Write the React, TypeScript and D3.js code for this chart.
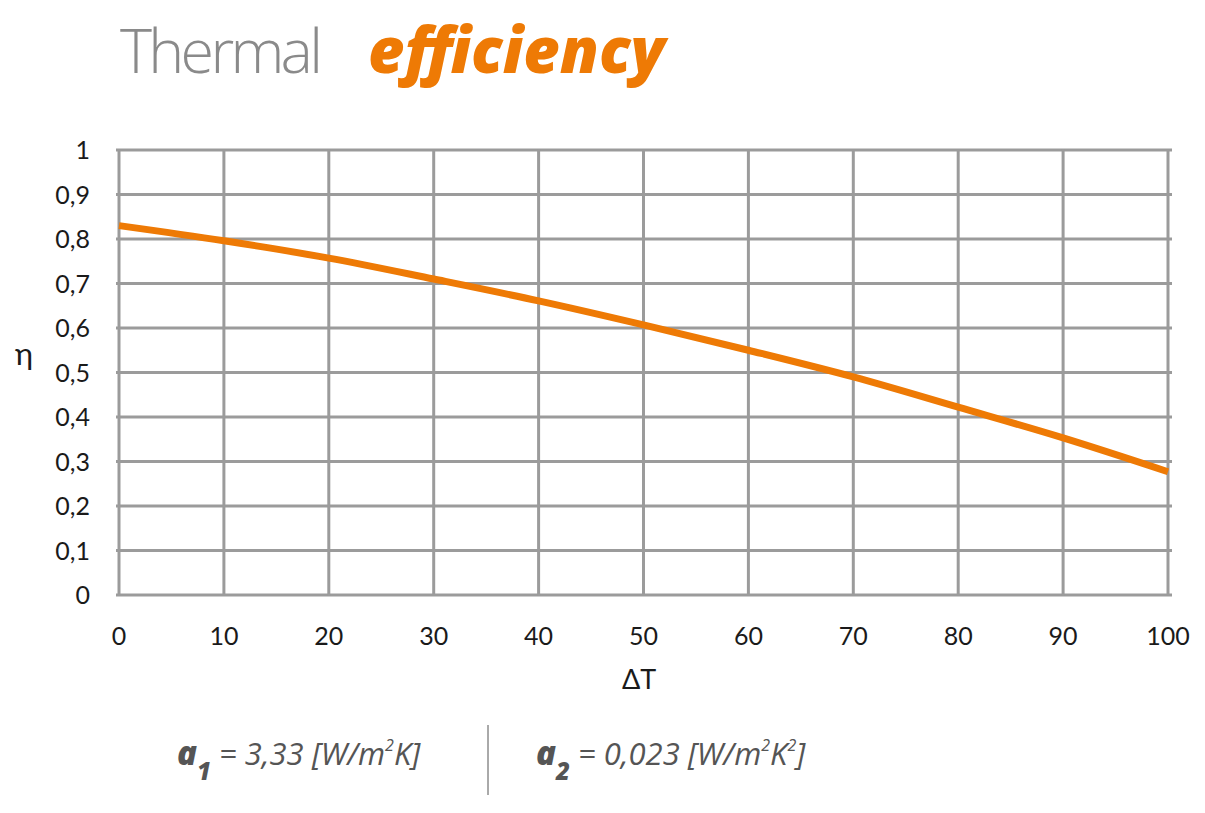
import React from "react";
import * as d3 from "d3";

const deltaT = [0, 10, 20, 30, 40, 50, 60, 70, 80, 90, 100];
const eta = [0.83, 0.796, 0.757, 0.71, 0.661, 0.607, 0.55, 0.49, 0.422, 0.353, 0.277];
const xTicks = [0, 10, 20, 30, 40, 50, 60, 70, 80, 90, 100];
const yTicks = [0, 0.1, 0.2, 0.3, 0.4, 0.5, 0.6, 0.7, 0.8, 0.9, 1];

const W = 1205, H = 813;
const M = { left: 119, right: 1168, top: 150, bottom: 595 };
const ORANGE = "#ee7a05";
const GRID = "#9b9b9b";

const fmt = (v: number) => (v === 0 || v === 1 ? String(v) : String(v).replace(".", ","));

export default function App() {
  const x = d3.scaleLinear().domain([0, 100]).range([M.left, M.right]);
  const y = d3.scaleLinear().domain([0, 1]).range([M.bottom, M.top]);
  const line = d3
    .line<number>()
    .x((_, i) => x(deltaT[i]))
    .y((d) => y(d))
    .curve(d3.curveMonotoneX);
  const tickFont = "Lato, 'Open Sans', sans-serif";
  return (
    <svg width={W} height={H} style={{ position: "absolute", left: 0, top: 0, background: "#fff" }}>
      <text x={120} y={73} fontFamily="'Open Sans'" fontWeight={300} fontSize={61} textLength={203} lengthAdjust="spacing" fill="#8a8a8a">
        Thermal
      </text>
      <text x={368} y={73} fontFamily="'Open Sans'" fontWeight={800} fontStyle="italic" fontSize={63} fill={ORANGE}>
        efficiency
      </text>
      {yTicks.map((t) => (
        <line key={"h" + t} x1={M.left - 3} x2={M.right + 4} y1={y(t)} y2={y(t)} stroke={GRID} strokeWidth={3} />
      ))}
      {xTicks.map((t) => (
        <line key={"v" + t} x1={x(t)} x2={x(t)} y1={M.top - 1} y2={M.bottom + 1} stroke={GRID} strokeWidth={3} />
      ))}
      {yTicks.map((t) => (
        <text key={"yl" + t} x={90} y={y(t)} dy="0.36em" textAnchor="end" fontFamily={tickFont} fontSize={25} fill="#1a1a1a">
          {fmt(t)}
        </text>
      ))}
      {xTicks.map((t) => (
        <text key={"xl" + t} x={x(t)} y={645} textAnchor="middle" fontFamily={tickFont} fontSize={25} fill="#1a1a1a">
          {t}
        </text>
      ))}
      <text x={639} y={689} textAnchor="middle" fontFamily={tickFont} fontSize={27} fill="#1a1a1a">ΔT</text>
      <text x={24} y={365} textAnchor="middle" fontFamily={tickFont} fontSize={31} fill="#1a1a1a">η</text>
      <path d={line(eta) || ""} fill="none" stroke={ORANGE} strokeWidth={7} strokeLinecap="butt" />
      <line x1={488} x2={488} y1={725} y2={795} stroke="#555" strokeWidth={1} />
      <g fontFamily="'Open Sans'" fontStyle="italic" fill="#555" fontSize={31}>
        <text x={177} y={765}>
          <tspan fontWeight={800} fontSize={33}>a</tspan>
          <tspan fontWeight={800} fontSize={24} dy={15}>1</tspan>
          <tspan dy={-15}> = 3,33 [W/m</tspan>
          <tspan fontSize={16} dy={-14}>2</tspan>
          <tspan dy={14}>K]</tspan>
        </text>
        <text x={536} y={765}>
          <tspan fontWeight={800} fontSize={33}>a</tspan>
          <tspan fontWeight={800} fontSize={24} dy={15}>2</tspan>
          <tspan dy={-15}> = 0,023 [W/m</tspan>
          <tspan fontSize={16} dy={-14}>2</tspan>
          <tspan dy={14}>K</tspan>
          <tspan fontSize={16} dy={-14}>2</tspan>
          <tspan dy={14}>]</tspan>
        </text>
      </g>
    </svg>
  );
}
